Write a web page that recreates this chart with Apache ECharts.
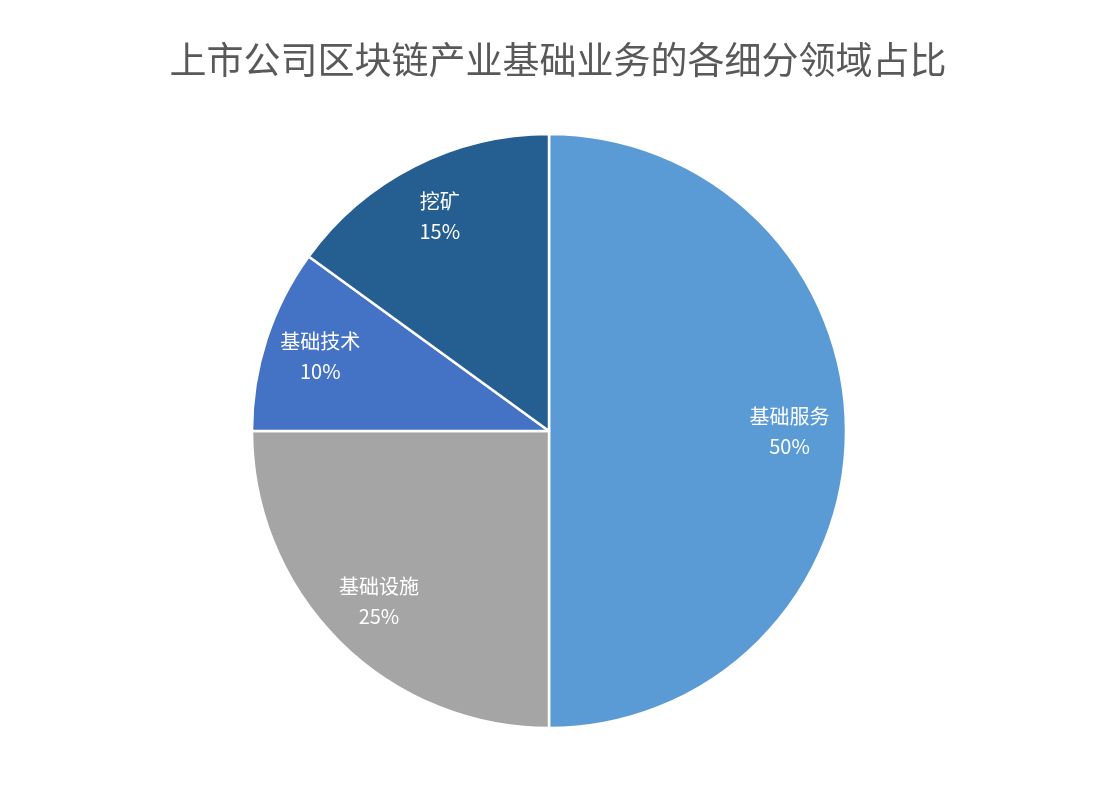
<!DOCTYPE html>
<html>
  <head>
    <meta charset="utf-8" />
    <title></title>
    <style type="text/css">
      html,
      body {
        margin: 0;
        width: 100%;
        height: 100%;
        background: #fff;
      }
      #main {
        width: 1116px;
        height: 793px;
      }
    </style>
  </head>
  <body>
    <div id="main"></div>
    <script src="https://cdn.jsdelivr.net/npm/echarts@6/dist/echarts.min.js"></script>
    <script type="text/javascript">
      var names = ["基础服务", "基础设施", "基础技术", "挖矿"];
      var values = [50, 25, 10, 15];
      var colors = ["#5B9BD5", "#A5A5A5", "#4472C4", "#255E91"];

      var datas = names.map(function (n, i) {
        return { name: n, value: values[i], itemStyle: { color: colors[i] } };
      });

      var chart = echarts.init(document.getElementById("main"));
      chart.setOption({
        animation: false,
        title: {
          text: "上市公司区块链产业基础业务的各细分领域占比",
          left: "center",
          top: 36,
          textStyle: {
            color: "#595959",
            fontSize: 37,
            fontWeight: "normal",
            fontFamily: "Noto Sans CJK SC",
          },
        },
        series: [
          {
            type: "pie",
            center: [549, 431],
            radius: [0, 297],
            startAngle: 90,
            clockwise: true,
            label: { show: false },
            labelLine: { show: false },
            itemStyle: { borderColor: "#fff", borderWidth: 2.5 },
            data: datas,
          },
          {
            // 只用于放标签，位置更靠外
            type: "pie",
            silent: true,
            center: [549, 431],
            radius: [178, 297],
            startAngle: 90,
            clockwise: true,
            itemStyle: { color: "transparent" },
            label: {
              show: true,
              position: "inside",
              formatter: "{b}\n{d}%",
              color: "#fff",
              fontSize: 20,
              lineHeight: 30,
              fontFamily: "Noto Sans CJK SC",
            },
            data: names.map(function (n, i) {
              return { name: n, value: values[i] };
            }),
          },
        ],
      });
    </script>
  </body>
</html>
